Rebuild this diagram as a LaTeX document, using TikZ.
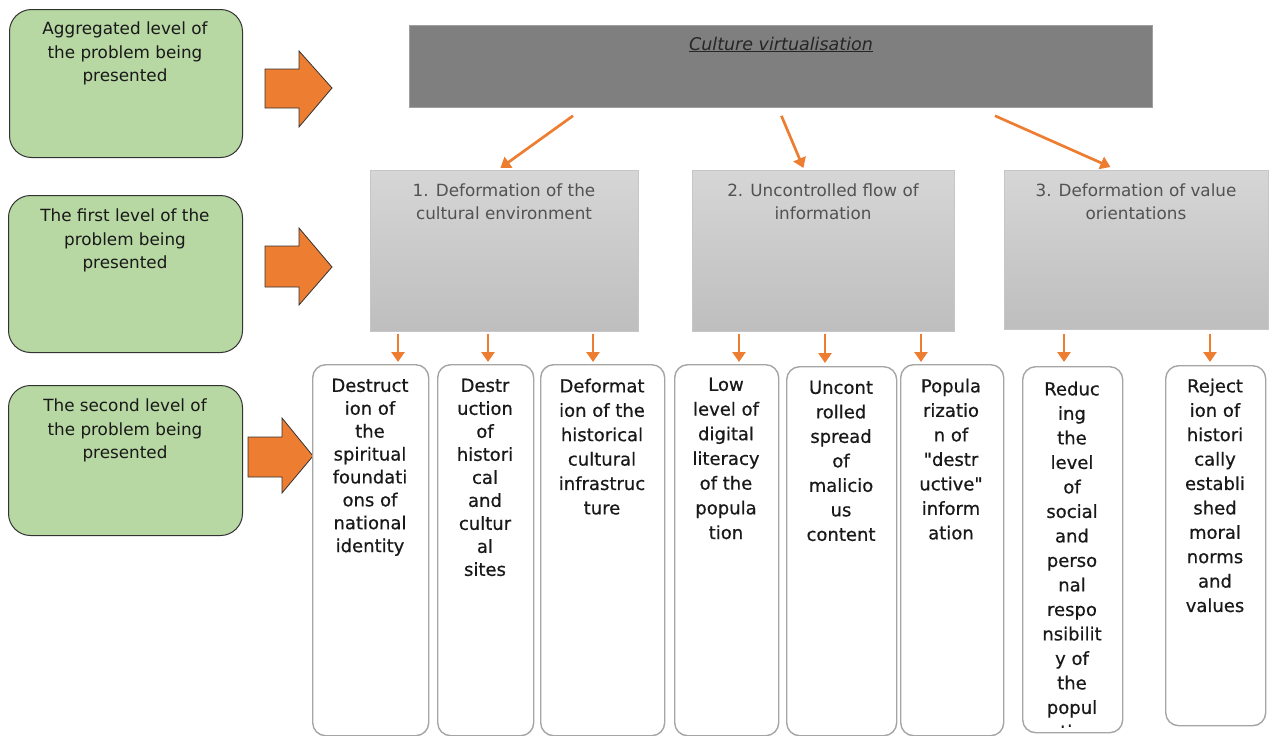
\documentclass[tikz,border=0pt]{standalone}
\usepackage{fontspec}
\setmainfont{DejaVu Sans}
\newfontfamily\boxfont{DejaVu Sans}[FakeBold=0.6]
\usetikzlibrary{arrows.meta,calc}
\definecolor{orc}{RGB}{237,125,49}
\definecolor{grn}{RGB}{183,215,163}
\definecolor{topgray}{RGB}{127,127,127}
\definecolor{ltop}{RGB}{214,214,214}
\definecolor{lbot}{RGB}{190,190,190}
\definecolor{bordergray}{RGB}{165,165,165}
\tikzset{
  greenbox/.style={draw=black!80, fill=grn, line width=1pt, rounded corners=22pt, anchor=north west, inner sep=0pt},
  greentext/.style={anchor=north, align=center, inner sep=0pt, text=black!90, font=\fontsize{16.8}{23.5}\selectfont},
  topbox/.style={draw=gray!75, fill=topgray, line width=0.8pt, anchor=north west, inner sep=0pt},
  levelone/.style={draw=gray!45, top color=ltop, bottom color=lbot, line width=0.8pt, anchor=north west, inner sep=0pt},
  onetext/.style={anchor=north, align=center, inner sep=0pt, text=black!68, font=\fontsize{16.8}{23}\selectfont},
  leveltwo/.style={draw=bordergray, fill=white, line width=1.4pt, rounded corners=13pt, anchor=north west, inner sep=0pt},
  twotext/.style={anchor=north, align=center, inner sep=0pt, text=black!90, font=\boxfont\fontsize{18}{24.5}\selectfont},
  oarr/.style={draw=orc, line width=2.7pt, -{Triangle[width=13pt,length=10pt]}},
  blockarrow/.style={fill=orc, draw=black!80, line width=0.8pt, line join=miter}
}
\begin{document}
\begin{tikzpicture}[x=1pt,y=-1pt]
\useasboundingbox (0,0) rectangle (1272,736);

% green level boxes
\node[greenbox, minimum width=233pt, minimum height=148pt] (g1) at (9,9) {};
\node[greenbox, minimum width=234pt, minimum height=157pt] (g2) at (8,195) {};
\node[greenbox, minimum width=234pt, minimum height=150pt] (g3) at (8,385) {};
\node[greentext] (g1t) at (125,22) {Aggregated level of\\the problem being\\presented};
\node[greentext] (g2t) at (125,209) {The first level of the\\problem being\\presented};
\node[greentext] (g3t) at (125,399) {The second level of\\the problem being\\presented};

% block arrows
\draw[blockarrow] (265,69) -- (299,69) -- (299,51) -- (332,88) -- (299,127) -- (299,108) -- (265,108) -- cycle;
\draw[blockarrow] (265,246) -- (299,246) -- (299,228) -- (332,267) -- (299,305) -- (299,287) -- (265,287) -- cycle;
\draw[blockarrow] (248,437) -- (282,437) -- (282,418) -- (313,456) -- (282,493) -- (282,477) -- (248,477) -- cycle;

% top box
\node[topbox, minimum width=743pt, minimum height=82pt] (top) at (409,25) {};
\node[anchor=base, inner sep=0pt, text=black!85, font=\fontsize{17.5}{21}\selectfont\itshape] (toptxt) at (781,50) {\underline{Culture virtualisation}};

% level one boxes
\node[levelone, minimum width=268pt, minimum height=161pt] (l1a) at (370,170) {};
\node[levelone, minimum width=262pt, minimum height=161pt] (l1b) at (692,170) {};
\node[levelone, minimum width=264pt, minimum height=159pt] (l1c) at (1004,170) {};
\node[onetext] (l1at) at (504,183.5) {1. Deformation of the\\cultural environment};
\node[onetext] (l1bt) at (823,183.5) {2. Uncontrolled flow of\\information};
\node[onetext] (l1ct) at (1136,183.5) {3. Deformation of value\\orientations};

% arrows from top box
\draw[oarr] ($(top.south west)+(164,8)$) -- ($(l1a.north)+(-4,-2)$);
\draw[oarr] ($(top.south)+(0.5,8)$) -- ($(l1b.north)+(-20,-2)$);
\draw[oarr] ($(top.south west)+(586,8)$) -- ($(l1c.north)+(-26,-3)$);

% level two boxes
\node[leveltwo, minimum width=116pt, minimum height=371pt] (b1) at (312,364) {};
\node[leveltwo, minimum width=96pt, minimum height=371pt] (b2) at (437,364) {};
\node[leveltwo, minimum width=124pt, minimum height=371pt] (b3) at (540,364) {};
\node[leveltwo, minimum width=104pt, minimum height=371pt] (b4) at (674,364) {};
\node[leveltwo, minimum width=110pt, minimum height=369pt] (b5) at (786,366) {};
\node[leveltwo, minimum width=103pt, minimum height=371pt] (b6) at (900,364) {};
\node[leveltwo, minimum width=100pt, minimum height=366pt] (b7) at (1022,366) {};
\node[leveltwo, minimum width=100pt, minimum height=360pt] (b8) at (1165,365) {};

\node[twotext, font=\boxfont\fontsize{18}{22.9}\selectfont] (t1) at (370,378.5) {Destruct\\ion of\\the\\spiritual\\foundati\\ons of\\national\\identity};
\node[twotext, font=\boxfont\fontsize{18}{23}\selectfont] (t2) at (485,378.5) {Destr\\uction\\of\\histori\\cal\\and\\cultur\\al\\sites};
\node[twotext, font=\boxfont\fontsize{18}{24.4}\selectfont] (t3) at (602,378.5) {Deformat\\ion of the\\historical\\cultural\\infrastruc\\ture};
\node[twotext, font=\boxfont\fontsize{18}{24.7}\selectfont] (t4) at (726,377.5) {Low\\level of\\digital\\literacy\\of the\\popula\\tion};
\node[twotext] (t5) at (841,380.5) {Uncont\\rolled\\spread\\of\\malicio\\us\\content};
\node[twotext] (t6) at (951,378.5) {Popula\\rizatio\\n of\\"destr\\uctive"\\inform\\ation};
\begin{scope}
\clip ($(b7.north west)+(0,0)$) rectangle ($(b7.south east)+(0,-6)$);
\node[twotext] (t7) at (1072,381.5) {Reduc\\ing\\the\\level\\of\\social\\and\\perso\\nal\\respo\\nsibilit\\y of\\the\\popul\\ation};
\end{scope}
\node[twotext, font=\boxfont\fontsize{18}{24.4}\selectfont] (t8) at (1215,378.5) {Reject\\ion of\\histori\\cally\\establi\\shed\\moral\\norms\\and\\values};

% small arrows
\draw[oarr] ($(l1a.south west)+(28,2)$) -- ($(b1.north west)+(86,-2)$);
\draw[oarr] ($(l1a.south west)+(118,2)$) -- ($(b2.north west)+(51,-2)$);
\draw[oarr] ($(l1a.south west)+(223,2)$) -- ($(b3.north west)+(53,-2)$);
\draw[oarr] ($(l1b.south west)+(47,2)$) -- ($(b4.north west)+(65,-2)$);
\draw[oarr] ($(l1b.south west)+(133,2)$) -- ($(b5.north west)+(39,-3)$);
\draw[oarr] ($(l1b.south west)+(229,2)$) -- ($(b6.north west)+(21,-2)$);
\draw[oarr] ($(l1c.south west)+(60,4)$) -- ($(b7.north west)+(42,-4)$);
\draw[oarr] ($(l1c.south west)+(206,4)$) -- ($(b8.north west)+(45,-3)$);
\end{tikzpicture}
\end{document}
